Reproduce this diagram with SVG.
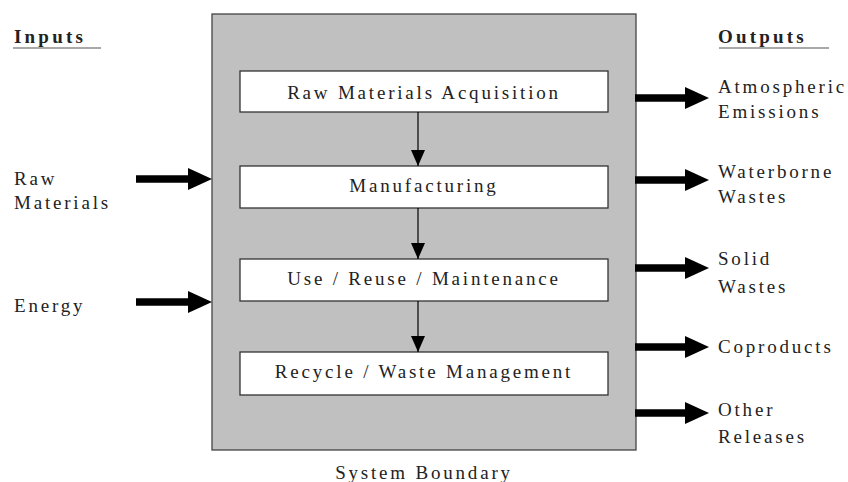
<svg xmlns="http://www.w3.org/2000/svg" width="848" height="482" viewBox="0 0 848 482">
<style>
.box{fill:#fff;stroke:#333;stroke-width:1.3}
.big{stroke:#000;stroke-width:7.5;fill:none}
.thin{stroke:#000;stroke-width:1.2;fill:none}
</style>
<rect id="boundary" x="212" y="14" width="424" height="436" fill="#c0c0c0" stroke="#444" stroke-width="1.3"/>
<g id="n1"><rect class="box" x="240" y="71" width="368" height="41"/><text font-family="Liberation Serif" font-size="19" fill="#222" letter-spacing="2.8" text-anchor="middle" x="424" y="99">Raw Materials Acquisition</text></g>
<g id="n2"><rect class="box" x="240" y="166" width="368" height="42"/><text font-family="Liberation Serif" font-size="19" fill="#222" letter-spacing="2.8" text-anchor="middle" x="424" y="192">Manufacturing</text></g>
<g id="n3"><rect class="box" x="240" y="259" width="368" height="42"/><text font-family="Liberation Serif" font-size="19" fill="#222" letter-spacing="2.8" text-anchor="middle" x="424" y="285">Use / Reuse / Maintenance</text></g>
<g id="n4"><rect class="box" x="240" y="352" width="368" height="43"/><text font-family="Liberation Serif" font-size="19" fill="#222" letter-spacing="2.8" text-anchor="middle" x="424" y="378">Recycle / Waste Management</text></g>
<g id="connectors">
<path d="M418,112 L418,166" class="thin"/><path d="M411,150 L425,150 L418,166 Z"/>
<path d="M418,208 L418,259" class="thin"/><path d="M411,243 L425,243 L418,259 Z"/>
<path d="M418,301 L418,352" class="thin"/><path d="M411,336 L425,336 L418,352 Z"/>
<path d="M136,179 L190,179" class="big"/><path d="M188,168 L212,179 L188,190 Z"/>
<path d="M136,302 L190,302" class="big"/><path d="M188,291 L212,302 L188,313 Z"/>
<path d="M635,98 L687,98" class="big"/><path d="M685,87 L709,98 L685,109 Z"/>
<path d="M635,180 L687,180" class="big"/><path d="M685,169 L709,180 L685,191 Z"/>
<path d="M635,268 L687,268" class="big"/><path d="M685,257 L709,268 L685,279 Z"/>
<path d="M635,347 L687,347" class="big"/><path d="M685,336 L709,347 L685,358 Z"/>
<path d="M635,413 L687,413" class="big"/><path d="M685,402 L709,413 L685,424 Z"/>
</g>
<g id="labels" font-family="Liberation Serif" font-size="19" fill="#222" letter-spacing="2.8">
<text font-family="Liberation Serif" font-weight="bold" letter-spacing="3.2" x="14" y="43">Inputs</text>
<line x1="13" y1="48" x2="101" y2="48" stroke="#555" stroke-width="1.2"/>
<text font-family="Liberation Serif" font-weight="bold" letter-spacing="3.2" x="718" y="43">Outputs</text>
<line x1="719" y1="48" x2="829" y2="48" stroke="#555" stroke-width="1.2"/>
<text font-family="Liberation Serif" x="14" y="185">Raw</text>
<text font-family="Liberation Serif" x="14" y="209">Materials</text>
<text font-family="Liberation Serif" x="14" y="312">Energy</text>
<text font-family="Liberation Serif" x="718" y="93">Atmospheric</text>
<text font-family="Liberation Serif" x="718" y="118">Emissions</text>
<text font-family="Liberation Serif" x="718" y="178">Waterborne</text>
<text font-family="Liberation Serif" x="718" y="203">Wastes</text>
<text font-family="Liberation Serif" x="718" y="265">Solid</text>
<text font-family="Liberation Serif" x="718" y="293">Wastes</text>
<text font-family="Liberation Serif" x="718" y="353">Coproducts</text>
<text font-family="Liberation Serif" x="718" y="416">Other</text>
<text font-family="Liberation Serif" x="718" y="443">Releases</text>
<text font-family="Liberation Serif" text-anchor="middle" x="424" y="479">System Boundary</text>
</g>
</svg>
